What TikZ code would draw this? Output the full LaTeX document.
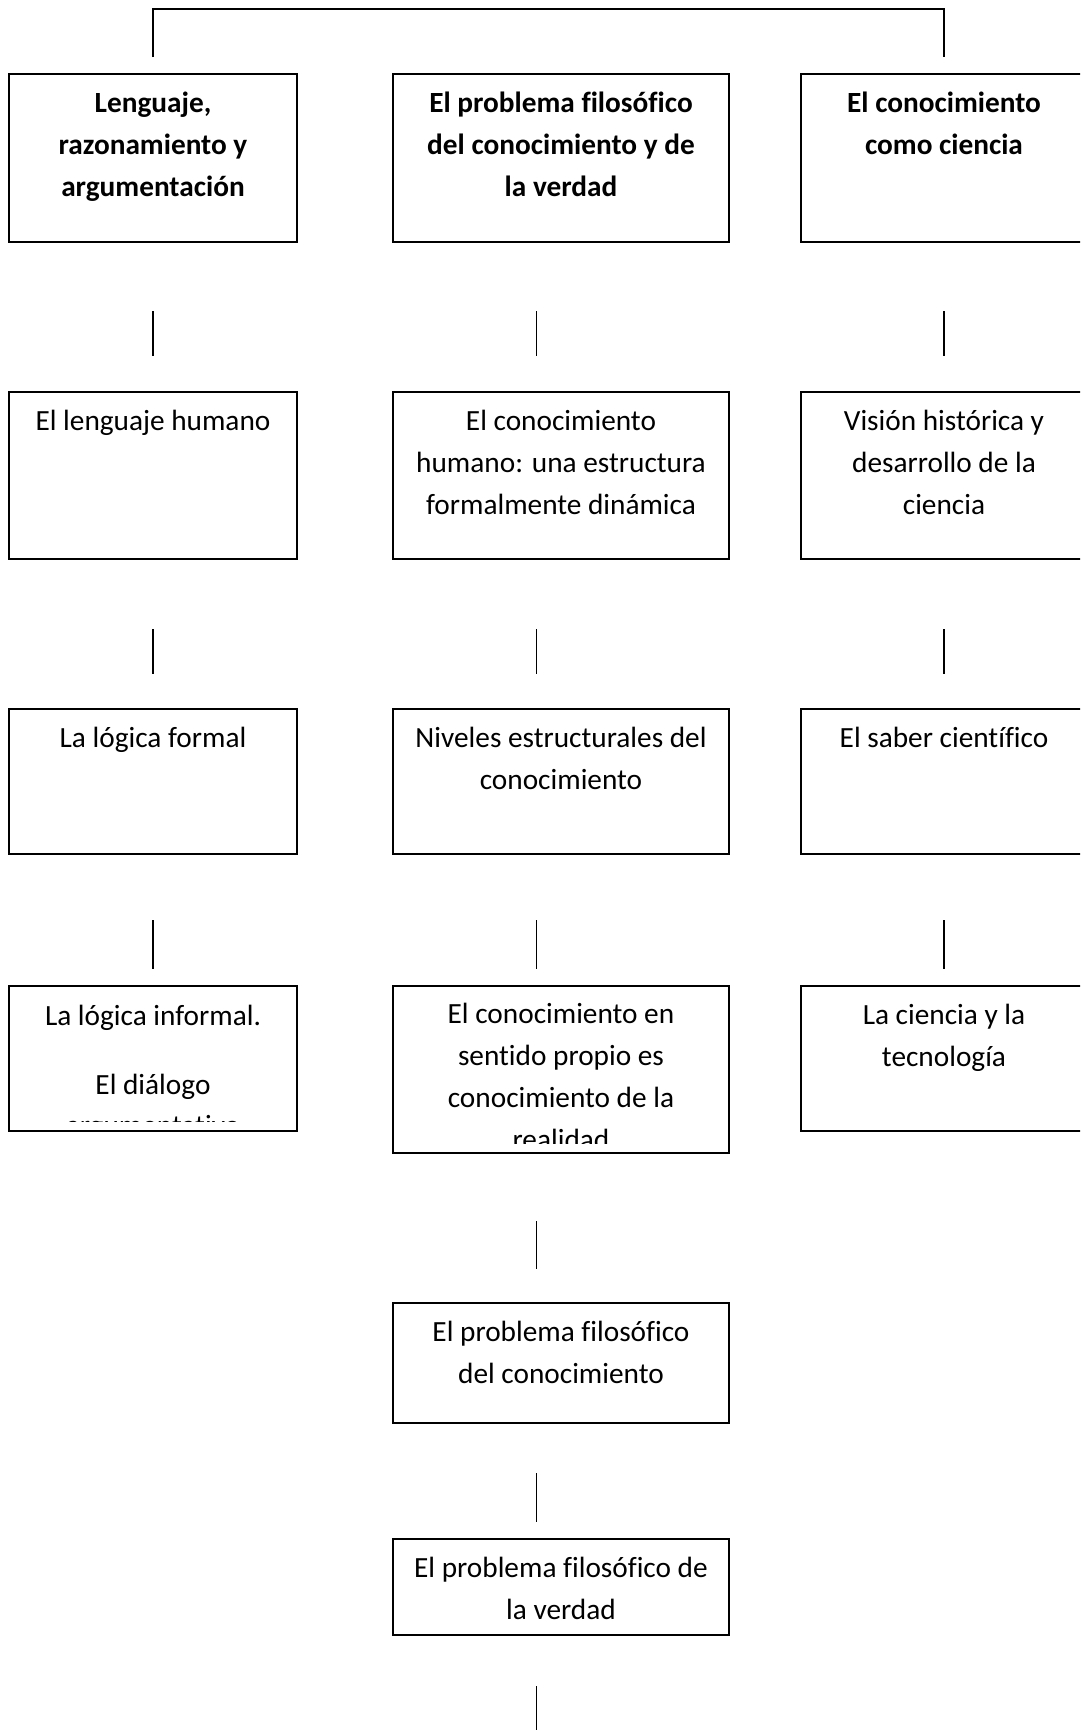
\documentclass[tikz,border=0pt]{standalone}
\usepackage{fontspec}
\setmainfont{Carlito}[Ligatures=NoCommon]
\tikzset{
  box/.style={draw=black, line width=1.6pt, rectangle, outer sep=0pt, inner sep=0pt},
  txt/.style={anchor=north, inner sep=0pt, align=center, text=black, font=\fontsize{29.3}{41.7}\selectfont},
  txtb/.style={txt, font=\fontsize{29.3}{41.7}\selectfont\bfseries},
  conn/.style={draw=black, line width=1.4pt},
}
\begin{document}
\begin{tikzpicture}[x=1pt,y=-1pt]
\useasboundingbox (0,0) rectangle (1080,1730);
\clip (0,0) rectangle (1080,1730);
\fill[white] (0,0) rectangle (1080,1730);

% row 1
\node[box, minimum width=288pt, minimum height=168pt] (L1) at (153,158) {};
\node[box, minimum width=336pt, minimum height=168pt] (M1) at (561,158) {};
\node[box, minimum width=286pt, minimum height=168pt] (R1) at (944,158) {};
\node[txtb] (L1t) at ([yshift=-9.3pt]L1.north) {\strut Lenguaje,\\razonamiento y\\argumentación};
\node[txtb] (M1t) at ([yshift=-9.3pt]M1.north) {\strut El problema filosófico\\del conocimiento y de\\la verdad};
\node[txtb] (R1t) at ([yshift=-9.3pt]R1.north) {\strut El conocimiento\\como ciencia};

% row 2
\node[box, minimum width=288pt, minimum height=167pt] (L2) at (153,475.5) {};
\node[box, minimum width=336pt, minimum height=167pt] (M2) at (561,475.5) {};
\node[box, minimum width=286pt, minimum height=167pt] (R2) at (944,475.5) {};
\node[txt] (L2t) at ([yshift=-9.3pt]L2.north) {\strut El lenguaje humano};
\node[txt] (M2t) at ([yshift=-9.3pt]M2.north) {\strut El conocimiento\\humano: una estructura\\formalmente dinámica};
\node[txt] (R2t) at ([yshift=-9.3pt]R2.north) {\strut Visión histórica y\\desarrollo de la\\ciencia};

% row 3
\node[box, minimum width=288pt, minimum height=145pt] (L3) at (153,781.5) {};
\node[box, minimum width=336pt, minimum height=145pt] (M3) at (561,781.5) {};
\node[box, minimum width=286pt, minimum height=145pt] (R3) at (944,781.5) {};
\node[txt] (L3t) at ([yshift=-9.3pt]L3.north) {\strut La lógica formal};
\node[txt] (M3t) at ([yshift=-9.3pt]M3.north) {\strut Niveles estructurales del\\conocimiento};
\node[txt] (R3t) at ([yshift=-9.3pt]R3.north) {\strut El saber científico};

% row 4
\node[box, minimum width=288pt, minimum height=145pt] (L4) at (153,1058.5) {};
\node[box, minimum width=336pt, minimum height=167pt] (M4) at (561,1069.5) {};
\node[box, minimum width=286pt, minimum height=145pt] (R4) at (944,1058.5) {};
\begin{scope}
  \clip ([xshift=2pt]L4.north west) rectangle ([xshift=-2pt,yshift=10pt]L4.south east);
  \node[txt] (L4t) at ([yshift=-10.5pt]L4.north) {\strut La lógica informal.\\[26.5pt]El diálogo\\argumentativo};
\end{scope}
\begin{scope}
  \clip ([xshift=2pt]M4.north west) rectangle ([xshift=-2pt,yshift=10pt]M4.south east);
  \node[txt] (M4t) at ([yshift=-8.5pt]M4.north) {\strut El conocimiento en\\sentido propio es\\conocimiento de la\\realidad};
\end{scope}
\node[txt] (R4t) at ([yshift=-9.3pt]R4.north) {\strut La ciencia y la\\tecnología};

% row 5, 6
\node[box, minimum width=336pt, minimum height=120pt] (M5) at (561,1363) {};
\node[txt] (M5t) at ([yshift=-9.3pt]M5.north) {\strut El problema filosófico\\del conocimiento};
\node[box, minimum width=336pt, minimum height=96pt] (M6) at (561,1587) {};
\node[txt] (M6t) at ([yshift=-9.3pt]M6.north) {\strut El problema filosófico de\\la verdad};

% top bracket
\coordinate (topbar) at (548,9);
\draw[conn] ([yshift=17pt]L1.north) |- (topbar) -| ([yshift=17pt]R1.north);

% left column
\draw[conn, shorten <=69pt, shorten >=36pt] (L1.south) -- (L2.north);
\draw[conn, shorten <=70pt, shorten >=35pt] (L2.south) -- (L3.north);
\draw[conn, shorten <=66pt, shorten >=17pt] (L3.south) -- (L4.north);
% right column
\draw[conn, shorten <=69pt, shorten >=36pt] (R1.south) -- (R2.north);
\draw[conn, shorten <=70pt, shorten >=35pt] (R2.south) -- (R3.north);
\draw[conn, shorten <=66pt, shorten >=17pt] (R3.south) -- (R4.north);
% middle column
\draw[conn, shorten <=69pt, shorten >=36pt] ([xshift=-24.5pt]M1.south) -- ([xshift=-24.5pt]M2.north);
\draw[conn, shorten <=70pt, shorten >=35pt] ([xshift=-24.5pt]M2.south) -- ([xshift=-24.5pt]M3.north);
\draw[conn, shorten <=66pt, shorten >=17pt] ([xshift=-24.5pt]M3.south) -- ([xshift=-24.5pt]M4.north);
\draw[conn, shorten <=68pt, shorten >=34pt] ([xshift=-24.5pt]M4.south) -- ([xshift=-24.5pt]M5.north);
\draw[conn, shorten <=50pt, shorten >=17pt] ([xshift=-24.5pt]M5.south) -- ([xshift=-24.5pt]M6.north);
\coordinate (bottomend) at (536.5,1730);
\draw[conn, shorten <=51pt] ([xshift=-24.5pt]M6.south) -- (bottomend);
\end{tikzpicture}
\end{document}
